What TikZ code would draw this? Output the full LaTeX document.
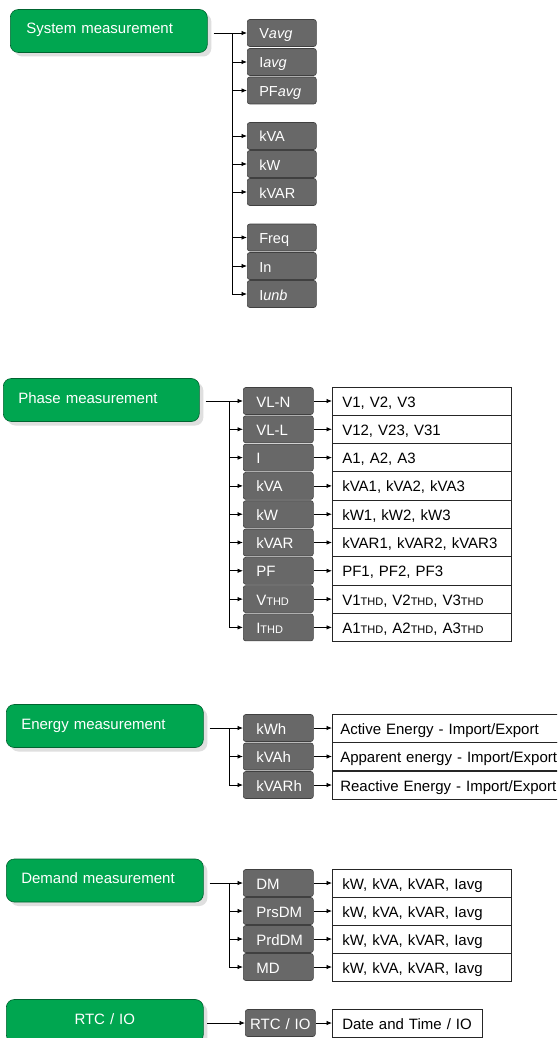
\documentclass[tikz,border=0pt]{standalone}
\usepackage{fontspec}
\setmainfont{Liberation Sans}
\usetikzlibrary{arrows.meta}
\usetikzlibrary{shadows}
\definecolor{grnc}{HTML}{00A650}
\definecolor{gryc}{HTML}{686868}
\newcommand{\thd}{{\fontsize{11}{11}\selectfont THD}}
\tikzset{txt/.style={font=\fontsize{15}{15}\selectfont}}
\tikzset{grn/.style={txt, anchor=west, fill=grnc, draw=grnc!60!black, line width=0.6pt, rounded corners=8pt, minimum height=43pt, inner xsep=15pt, inner ysep=0pt, text width=167pt, text height=10pt, text depth=4pt, align=left, text=white, drop shadow={shadow xshift=4pt, shadow yshift=-4pt, opacity=0.25}}}
\tikzset{g/.style={txt, anchor=west, fill=gryc, draw=black!75, line width=0.6pt, rounded corners=2.5pt, minimum height=27pt, inner xsep=13pt, inner ysep=0pt, text width=#1, text height=12pt, text depth=0pt, align=left, text=white}, g/.default=44pt}
\tikzset{w/.style={txt, anchor=west, draw=black!85, line width=0.6pt, fill=white, minimum height=28.3pt, inner xsep=10pt, inner ysep=0pt, text width=#1, text height=12pt, text depth=0pt, align=left}, w/.default=159pt}
\tikzset{br/.style={<-, to path={-| (\tikztotarget)}}}

\begin{document}
\begin{tikzpicture}[x=1pt, y=-1pt, line width=0.8pt, >={Latex[length=5.5pt,width=4.5pt]}]
\useasboundingbox (0,0) rectangle (557,1038);
\clip (0,0) rectangle (557,1038);
\fill[white] (0,0) rectangle (557,1038);

\node[grn, text width=165pt, inner xsep=16pt] (sys) at (10,31) {System measurement};
\coordinate (sysj) at (232,33);
\draw[shorten <=6pt] (sys.east |- sysj) -- (sysj);
\node[g=45pt, inner xsep=12pt, font=\fontsize{14.5}{14.5}\selectfont] (Vavg) at (247,33) {V\textit{avg}} edge[br] (sysj);
\node[g=45pt, inner xsep=12pt, font=\fontsize{14.5}{14.5}\selectfont] (Iavg) at (247,62) {I\textit{avg}} edge[br] (sysj);
\node[g=45pt, inner xsep=12pt, font=\fontsize{14.5}{14.5}\selectfont] (PFavg) at (247,90.5) {PF\textit{avg}} edge[br] (sysj);
\node[g=45pt, inner xsep=12pt, font=\fontsize{14.5}{14.5}\selectfont] (kVAs) at (247,136) {kVA} edge[br] (sysj);
\node[g=45pt, inner xsep=12pt, font=\fontsize{14.5}{14.5}\selectfont] (kWs) at (247,164) {kW} edge[br] (sysj);
\node[g=45pt, inner xsep=12pt, font=\fontsize{14.5}{14.5}\selectfont] (kVARs) at (247,192) {kVAR} edge[br] (sysj);
\node[g=45pt, inner xsep=12pt, font=\fontsize{14.5}{14.5}\selectfont] (Freq) at (247,237.5) {Freq} edge[br] (sysj);
\node[g=45pt, inner xsep=12pt, font=\fontsize{14.5}{14.5}\selectfont] (In) at (247,266) {In} edge[br] (sysj);
\node[g=45pt, inner xsep=12pt, font=\fontsize{14.5}{14.5}\selectfont] (Iunb) at (247,294) {I\textit{unb}} edge[br] (sysj);

\node[grn, text width=166pt] (ph) at (3,400) {Phase measurement};
\coordinate (phj) at (229,401);
\draw[shorten <=6pt] (ph.east |- phj) -- (phj);
\node[g] (VLN) at (243,401) {VL-N} edge[br] (phj);
\node[g] (VLL) at (243,429.3) {VL-L} edge[br] (phj);
\node[g] (Iph) at (243,457.6) {I} edge[br] (phj);
\node[g] (kVAph) at (243,485.9) {kVA} edge[br] (phj);
\node[g] (kWph) at (243,514.2) {kW} edge[br] (phj);
\node[g] (kVARph) at (243,542.5) {kVAR} edge[br] (phj);
\node[g] (PFph) at (243,570.8) {PF} edge[br] (phj);
\node[g] (Vthd) at (243,599.1) {V\thd} edge[br] (phj);
\node[g] (Ithd) at (243,627.4) {I\thd} edge[br] (phj);
\node[w] (VLNv) at (332,401) {V1, V2, V3} edge[<-] (VLN);
\node[w] (VLLv) at (332,429.3) {V12, V23, V31} edge[<-] (VLL);
\node[w] (Iphv) at (332,457.6) {A1, A2, A3} edge[<-] (Iph);
\node[w] (kVAphv) at (332,485.9) {kVA1, kVA2, kVA3} edge[<-] (kVAph);
\node[w] (kWphv) at (332,514.2) {kW1, kW2, kW3} edge[<-] (kWph);
\node[w] (kVARphv) at (332,542.5) {kVAR1, kVAR2, kVAR3} edge[<-] (kVARph);
\node[w] (PFphv) at (332,570.8) {PF1, PF2, PF3} edge[<-] (PFph);
\node[w] (Vthdv) at (332,599.1) {V1\thd, V2\thd, V3\thd} edge[<-] (Vthd);
\node[w] (Ithdv) at (332,627.4) {A1\thd, A2\thd, A3\thd} edge[<-] (Ithd);

\node[grn] (en) at (6,726) {Energy measurement};
\coordinate (enj) at (229,728);
\draw[shorten <=6pt] (en.east |- enj) -- (enj);
\node[g] (kWh) at (243,728) {kWh} edge[br] (enj);
\node[g] (kVAh) at (243,756.5) {kVAh} edge[br] (enj);
\node[g] (kVARh) at (243,785) {kVARh} edge[br] (enj);
\node[w=240pt, inner xsep=8pt] (kWhv) at (332,728) {Active Energy - Import/Export} edge[<-] (kWh);
\node[w=240pt, inner xsep=8pt] (kVAhv) at (332,756.5) {Apparent energy - Import/Export} edge[<-] (kVAh);
\node[w=240pt, inner xsep=8pt] (kVARhv) at (332,785) {Reactive Energy - Import/Export} edge[<-] (kVARh);

\node[grn] (dm) at (6,880.5) {Demand measurement};
\coordinate (dmj) at (229,883);
\draw[shorten <=6pt] (dm.east |- dmj) -- (dmj);
\node[g] (DM) at (243,883) {DM} edge[br] (dmj);
\node[g] (PrsDM) at (243,911) {PrsDM} edge[br] (dmj);
\node[g] (PrdDM) at (243,939) {PrdDM} edge[br] (dmj);
\node[g] (MD) at (243,967) {MD} edge[br] (dmj);
\node[w, minimum height=28pt] (DMv) at (332,883) {kW, kVA, kVAR, Iavg} edge[<-] (DM);
\node[w, minimum height=28pt] (PrsDMv) at (332,911) {kW, kVA, kVAR, Iavg} edge[<-] (PrsDM);
\node[w, minimum height=28pt] (PrdDMv) at (332,939) {kW, kVA, kVAR, Iavg} edge[<-] (PrdDM);
\node[w, minimum height=28pt] (MDv) at (332,967) {kW, kVA, kVAR, Iavg} edge[<-] (MD);

\node[grn, align=center] (rtc) at (6,1021) {RTC / IO};
\node[g=64pt, inner xsep=3pt, align=center] (RTCg) at (245,1023) {RTC / IO};
\draw[<-, shorten >=3pt] (RTCg.west) -- (RTCg.west -| rtc.east);
\node[w=130pt] (RTCw) at (332,1023) {Date and Time / IO} edge[<-] (RTCg);
\end{tikzpicture}
\end{document}
